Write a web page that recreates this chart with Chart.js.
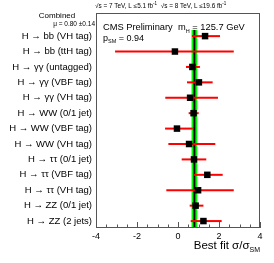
<!DOCTYPE html>
<html>
<head>
<meta charset="utf-8">
<script src="https://cdn.jsdelivr.net/npm/chart.js@4/dist/chart.umd.min.js"></script>
<style>
  html, body { margin: 0; padding: 0; background: #fff; }
  canvas { display: block; }
</style>
</head>
<body>
<canvas id="muChart" width="274" height="263"></canvas>
<script>
// channels, top to bottom
const categories = [
    'H → bb (VH tag)',
    'H → bb (ttH tag)',
    'H → γγ (untagged)',
    'H → γγ (VBF tag)',
    'H → γγ (VH tag)',
    'H → WW (0/1 jet)',
    'H → WW (VBF tag)',
    'H → WW (VH tag)',
    'H → ττ (0/1 jet)',
    'H → ττ (VBF tag)',
    'H → ττ (VH tag)',
    'H → ZZ (0/1 jet)',
    'H → ZZ (2 jets)'
];
// best fit signal strength and its 68% interval
const muFit = [1.32, -0.15, 0.70, 1.02, 0.59, 0.76, -0.05, 0.54, 0.78, 1.43, 0.98, 0.86, 1.24];
const muLow = [0.68, -3.07, 0.39, 0.44, -0.62, 0.52, -0.63, -0.47, 0.18, 0.75, -0.57, 0.57, 0.62];
const muHigh = [2.05, 2.72, 1.07, 1.69, 1.95, 1.01, 0.72, 1.82, 1.38, 2.18, 2.72, 1.24, 2.13];
// combined result
const muCombined = 0.80;
const muCombinedErr = 0.14;
const xTicks = [-4, -2, 0, 2, 4];

const FONT = '"Liberation Sans", Arial, Helvetica, sans-serif';

// draws a run of [text, size, dy] pieces left to right
function drawRuns(ctx, x, y, runs, align) {
    let total = 0;
    runs.forEach(r => {
        ctx.font = r[1] + 'px ' + FONT;
        total += ctx.measureText(r[0]).width;
    });
    if (align === 'right') x -= total;
    ctx.textAlign = 'left';
    ctx.textBaseline = 'alphabetic';
    runs.forEach(r => {
        ctx.font = r[1] + 'px ' + FONT;
        ctx.fillText(r[0], x, y + (r[2] || 0));
        x += ctx.measureText(r[0]).width;
    });
}

const cmsPlugin = {
    id: 'cmsPlugin',
    beforeDatasetsDraw(chart) {
        const ctx = chart.ctx;
        const xs = chart.scales.x;
        const ys = chart.scales.y;
        const area = chart.chartArea;
        const top = ys.getPixelForValue(-0.4);

        // combined band
        const bx0 = xs.getPixelForValue(muCombined - muCombinedErr);
        const bx1 = xs.getPixelForValue(muCombined + muCombinedErr);
        ctx.save();
        ctx.fillStyle = '#00ff00';
        ctx.fillRect(bx0, top, bx1 - bx0, area.bottom - top);
        ctx.strokeStyle = '#000';
        ctx.lineWidth = 2;
        ctx.beginPath();
        const cx = xs.getPixelForValue(muCombined);
        ctx.moveTo(cx, top);
        ctx.lineTo(cx, area.bottom);
        ctx.stroke();

        // error bars
        ctx.strokeStyle = '#ff0000';
        ctx.lineWidth = 2;
        categories.forEach((c, i) => {
            const y = ys.getPixelForValue(i);
            ctx.beginPath();
            ctx.moveTo(xs.getPixelForValue(muLow[i]), y);
            ctx.lineTo(xs.getPixelForValue(muHigh[i]), y);
            ctx.stroke();
        });
        ctx.restore();
    },
    afterDraw(chart) {
        const ctx = chart.ctx;
        const xs = chart.scales.x;
        const area = chart.chartArea;
        ctx.save();

        // frame
        ctx.strokeStyle = '#555';
        ctx.lineWidth = 1;
        ctx.strokeRect(Math.round(area.left) + 0.5, Math.round(area.top) + 0.5,
            Math.round(area.right - area.left) - 1, Math.round(area.bottom - area.top) - 1);

        // inward ticks on the x axis
        ctx.strokeStyle = '#555';
        ctx.beginPath();
        for (let v = -4; v <= 4.001; v += 0.5) {
            const px = Math.round(xs.getPixelForValue(v)) + 0.5;
            const len = xTicks.includes(v) ? 6 : 3.5;
            ctx.moveTo(px, area.bottom);
            ctx.lineTo(px, area.bottom - len);
        }
        ctx.stroke();

        ctx.fillStyle = '#000';
        // energy / lumi line
        drawRuns(ctx, 95, 8, [
            ['√s = 7 TeV, L ≤5.1 fb', 6.4], ['-1', 4.5, -3],
            ['  √s = 8 TeV, L ≤19.6 fb', 6.4], ['-1', 4.5, -3]
        ]);
        // combined label
        ctx.font = '8px ' + FONT;
        ctx.textAlign = 'center';
        ctx.fillText('Combined', 57, 18);
        drawRuns(ctx, 95, 25.5, [['μ = 0.80 ±0.14', 6.5]], 'right');

        drawRuns(ctx, 103, 30, [['CMS Preliminary', 9.3]]);
        drawRuns(ctx, 178, 30, [['m', 9.3], ['H', 5.5, 2.5], [' = 125.7 GeV', 9.3]]);
        drawRuns(ctx, 103, 40.5, [['p', 9], ['SM', 5.5, 2.5], [' = 0.94', 9]]);

        // axis title
        drawRuns(ctx, 260, 249, [['Best fit σ/σ', 11.5], ['SM', 7, 3]], 'right');
        ctx.restore();
    }
};

const ctx = document.getElementById('muChart').getContext('2d');
new Chart(ctx, {
    type: 'scatter',
    data: {
        datasets: [{
            data: muFit.map((m, i) => ({ x: m, y: i })),
            pointStyle: 'rect',
            pointRadius: 4.6,
            backgroundColor: '#000',
            borderColor: '#000',
            borderWidth: 0
        }]
    },
    options: {
        responsive: false,
        animation: false,
        events: [],
        layout: {
            padding: { top: 13, right: 14, left: 0, bottom: 0 }
        },
        plugins: {
            legend: { display: false },
            tooltip: { enabled: false }
        },
        scales: {
            x: {
                type: 'linear',
                min: -4,
                max: 4,
                afterFit: s => { s.height = 35; },
                afterBuildTicks: s => { s.ticks = xTicks.map(v => ({ value: v })); },
                grid: { display: false, drawTicks: false },
                border: { display: false },
                ticks: {
                    color: '#000',
                    padding: 3,
                    font: { family: FONT, size: 9 },
                    maxRotation: 0
                }
            },
            y: {
                type: 'linear',
                min: -1.5,
                max: 12.45,
                reverse: true,
                afterFit: s => { s.width = 96; },
                afterBuildTicks: s => { s.ticks = categories.map((c, i) => ({ value: i })); },
                grid: { display: false, drawTicks: false },
                border: { display: false },
                ticks: {
                    color: '#000',
                    padding: 4,
                    autoSkip: false,
                    font: { family: FONT, size: 9.5 },
                    callback: v => categories[v]
                }
            }
        }
    },
    plugins: [cmsPlugin]
});
</script>
</body>
</html>
